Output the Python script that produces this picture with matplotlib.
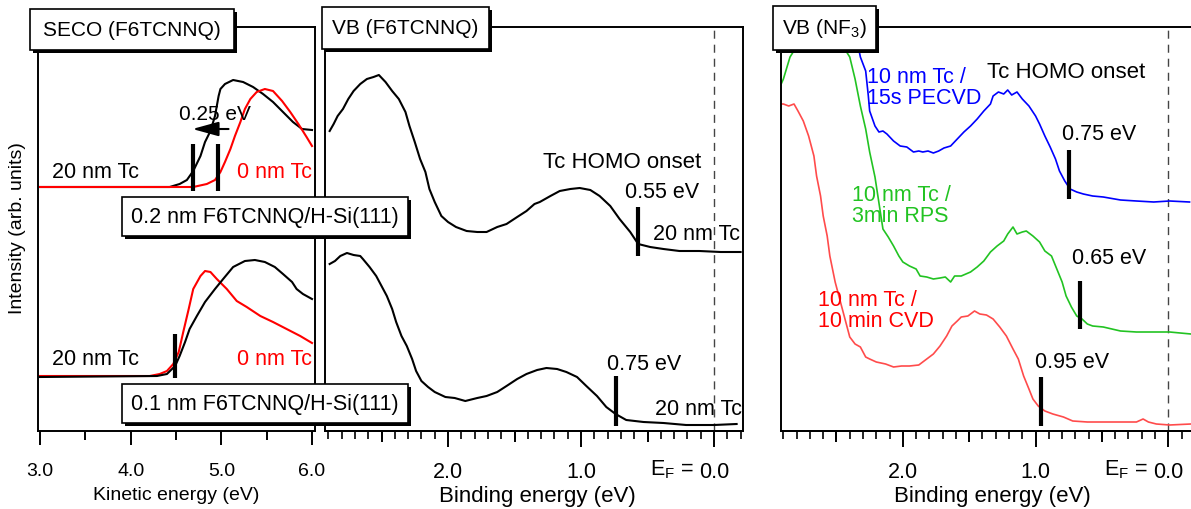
import matplotlib
matplotlib.use("Agg")
import matplotlib.pyplot as plt
from matplotlib.patches import Rectangle
from matplotlib.ticker import MultipleLocator, FixedLocator, FixedFormatter, FormatStrFormatter

plt.rcParams['font.family'] = ['Liberation Sans', 'DejaVu Sans']
plt.rcParams['mathtext.fontset'] = 'custom'
plt.rcParams['mathtext.rm'] = 'Liberation Sans'

# ---- data (intensity in arb. units) ----
# SECO, 0.2 nm F6TCNNQ
seco02_black_ke = [3.00, 4.21, 4.43, 4.54, 4.62, 4.69, 4.77, 4.82, 4.88, 4.93, 4.97, 4.99, 5.04, 5.13, 5.24, 5.35, 5.46, 5.57, 5.68, 5.79, 5.89, 6.00]
seco02_black_int = [244, 244, 244, 247, 251, 260, 275, 289, 300, 315, 335, 342, 347, 351, 349, 344, 337, 329, 319, 309, 302, 301]
seco02_red_ke = [3.00, 4.69, 4.84, 4.93, 4.99, 5.04, 5.10, 5.15, 5.21, 5.26, 5.32, 5.39, 5.48, 5.57, 5.67, 5.76, 5.85, 5.94, 6.00]
seco02_red_int = [244, 244, 247, 251, 259, 269, 282, 295, 309, 322, 332, 339, 342, 340, 330, 319, 307, 294, 285]
# SECO, 0.1 nm F6TCNNQ
seco01_black_ke = [3.00, 4.29, 4.40, 4.49, 4.54, 4.60, 4.65, 4.73, 4.82, 4.93, 5.02, 5.13, 5.26, 5.37, 5.48, 5.59, 5.68, 5.78, 5.83, 5.90, 6.00]
seco01_black_int = [54, 55, 57, 65, 75, 89, 102, 115, 129, 142, 152, 164, 170, 171, 169, 164, 157, 149, 142, 137, 132]
seco01_red_ke = [3.00, 4.21, 4.32, 4.40, 4.47, 4.53, 4.58, 4.64, 4.69, 4.77, 4.82, 4.88, 4.95, 5.06, 5.17, 5.28, 5.43, 5.57, 5.72, 5.87, 6.00]
seco01_red_int = [55, 55, 57, 60, 67, 79, 99, 122, 142, 155, 160, 159, 152, 142, 130, 124, 115, 109, 102, 95, 88]

# VB, F6TCNNQ (20 nm Tc)
vb02_be = [2.89, 2.86, 2.83, 2.79, 2.75, 2.71, 2.66, 2.61, 2.56, 2.52, 2.47, 2.42, 2.37, 2.32, 2.29, 2.25, 2.21, 2.17, 2.14, 2.10, 2.05, 2.00, 1.94, 1.86, 1.78, 1.71, 1.63, 1.56, 1.48, 1.41, 1.35, 1.31, 1.23, 1.16, 1.08, 1.01, 0.93, 0.86, 0.78, 0.71, 0.63, 0.57, 0.48, 0.38, 0.26, 0.11, -0.05, -0.20]
vb02_int = [300, 307, 315, 322, 332, 340, 347, 352, 354, 356, 349, 340, 332, 319, 305, 289, 272, 259, 242, 229, 215, 209, 204, 200, 199, 199, 204, 207, 214, 220, 227, 229, 235, 240, 242, 243, 241, 235, 225, 212, 199, 187, 184, 182, 180, 180, 179, 179]
vb01_be = [2.89, 2.85, 2.81, 2.76, 2.71, 2.66, 2.64, 2.59, 2.54, 2.50, 2.46, 2.42, 2.39, 2.35, 2.31, 2.27, 2.24, 2.20, 2.15, 2.10, 2.02, 1.95, 1.87, 1.78, 1.71, 1.63, 1.56, 1.48, 1.41, 1.33, 1.26, 1.18, 1.11, 1.03, 0.96, 0.88, 0.81, 0.74, 0.66, 0.53, 0.38, 0.21, 0.00, -0.17]
vb01_int = [167, 170, 175, 178, 176, 175, 172, 164, 155, 145, 135, 122, 109, 95, 85, 72, 60, 50, 44, 39, 34, 33, 30, 33, 35, 39, 45, 52, 57, 61, 63, 62, 59, 54, 45, 35, 24, 17, 11, 9, 8, 6, 6, 7]

# VB, NF3
pecvd_be = [2.36, 2.32, 2.28, 2.26, 2.25, 2.21, 2.18, 2.15, 2.12, 2.07, 2.02, 1.97, 1.92, 1.88, 1.85, 1.81, 1.77, 1.73, 1.69, 1.64, 1.59, 1.54, 1.49, 1.44, 1.39, 1.34, 1.32, 1.28, 1.24, 1.21, 1.18, 1.14, 1.10, 1.05, 1.00, 0.97, 0.93, 0.89, 0.85, 0.82, 0.78, 0.74, 0.69, 0.64, 0.57, 0.49, 0.36, 0.24, 0.11, -0.01, -0.16]
pecvd_int = [400, 374, 360, 335, 320, 305, 299, 300, 297, 290, 285, 284, 279, 280, 279, 280, 278, 280, 283, 285, 292, 299, 305, 312, 320, 327, 335, 339, 337, 341, 336, 339, 332, 325, 315, 307, 295, 284, 272, 260, 250, 242, 239, 237, 235, 234, 231, 230, 229, 230, 229]
rps_be = [2.92, 2.90, 2.85, 2.75, 2.50, 2.40, 2.36, 2.32, 2.28, 2.25, 2.21, 2.15, 2.11, 2.07, 2.03, 2.00, 1.95, 1.90, 1.87, 1.82, 1.77, 1.72, 1.68, 1.64, 1.61, 1.56, 1.49, 1.44, 1.39, 1.34, 1.29, 1.24, 1.21, 1.17, 1.14, 1.10, 1.07, 1.02, 0.97, 0.93, 0.88, 0.84, 0.80, 0.77, 0.73, 0.69, 0.65, 0.61, 0.57, 0.49, 0.36, 0.24, 0.11, -0.01, -0.17]
rps_int = [346, 352, 374, 395, 395, 374, 352, 325, 302, 279, 254, 202, 194, 185, 175, 169, 165, 162, 155, 154, 152, 153, 154, 149, 155, 155, 159, 164, 170, 179, 185, 190, 197, 204, 197, 199, 200, 195, 189, 180, 175, 162, 149, 135, 124, 115, 112, 107, 105, 104, 100, 99, 99, 99, 97]
cvd_be = [2.92, 2.90, 2.86, 2.82, 2.79, 2.75, 2.71, 2.67, 2.65, 2.62, 2.60, 2.57, 2.55, 2.51, 2.40, 2.36, 2.32, 2.28, 2.25, 2.20, 2.13, 2.07, 2.01, 1.95, 1.88, 1.82, 1.77, 1.72, 1.67, 1.63, 1.59, 1.56, 1.51, 1.46, 1.42, 1.37, 1.32, 1.27, 1.22, 1.17, 1.13, 1.09, 1.05, 1.02, 0.98, 0.93, 0.87, 0.79, 0.72, 0.61, 0.49, 0.36, 0.24, 0.19, 0.15, 0.09, -0.01, -0.17]
cvd_int = [327, 327, 325, 327, 320, 310, 295, 275, 255, 235, 215, 195, 175, 149, 94, 87, 84, 74, 72, 69, 67, 64, 65, 65, 66, 72, 77, 85, 95, 105, 110, 114, 115, 120, 117, 116, 112, 104, 95, 82, 72, 55, 42, 32, 25, 20, 17, 14, 10, 9, 9, 9, 9, 12, 9, 7, 6, 7]

# onset markers: position, bar bottom, bar top
seco_onsets = [(4.69, 240, 287), (4.96, 240, 287), (4.49, 53, 97)]
vb_onsets = [(0.57, 175, 224), (0.74, 5, 55)]
nf_onsets = [(0.75, 232, 281), (0.665, 102, 150), (0.96, 5, 54)]

BLUE = '#0000ff'
GREEN = '#22c322'
RED = '#ff0000'
RED_L = '#ff4b4b'

W, H = 1191, 510
def fx(px):
    return px / W
def fy(py):
    return 1 - py / H

fig = plt.figure(figsize=(W / 100, H / 100), dpi=100)

def make_axes(x0, x1):
    ax = fig.add_axes([fx(x0), fy(432), fx(x1) - fx(x0), fy(28) - fy(432)])
    ax.set_ylim(0, 404)
    ax.set_yticks([])
    for sp in ax.spines.values():
        sp.set_linewidth(1.4)
    return ax

ax_s = make_axes(38, 315)
ax_v = make_axes(325, 743)
ax_n = make_axes(781, 1191)
ax_n.spines['right'].set_visible(False)

# SECO panel
ax_s.set_xlim(2.978, 6.033)
ax_s.plot(seco02_black_ke, seco02_black_int, color='k', lw=1.5)
ax_s.plot(seco02_red_ke, seco02_red_int, color=RED, lw=1.5)
ax_s.plot(seco01_red_ke, seco01_red_int, color=RED, lw=1.5)
ax_s.plot(seco01_black_ke, seco01_black_int, color='k', lw=1.5)
for x, lo, hi in seco_onsets:
    ax_s.plot([x, x], [lo, hi], color='k', lw=3, solid_capstyle='butt')
ax_s.annotate('', xy=(4.65, 302), xytext=(5.11, 302),
              arrowprops=dict(arrowstyle='-|>,head_length=0.8,head_width=0.22',
                              color='k', lw=1.5, mutation_scale=20))
ax_s.text(4.93, 317, '0.25 eV', ha='center', va='center', fontsize=15)
ax_s.text(3.13, 260, '20 nm Tc', ha='left', va='center', fontsize=15.5)
ax_s.text(6.0, 260, '0 nm Tc', ha='right', va='center', fontsize=15.5, color=RED)
ax_s.text(3.13, 72, '20 nm Tc', ha='left', va='center', fontsize=15.5)
ax_s.text(6.0, 72, '0 nm Tc', ha='right', va='center', fontsize=15.5, color=RED)
ax_s.xaxis.set_major_locator(MultipleLocator(1))
ax_s.xaxis.set_minor_locator(MultipleLocator(0.5))
ax_s.xaxis.set_major_formatter(FormatStrFormatter('%.1f'))
ax_s.tick_params(axis='x', which='major', direction='out', length=10, width=1.4, labelsize=14, pad=12)
ax_s.tick_params(axis='x', which='minor', direction='out', length=6.5, width=1.4)

# VB panels
def vb_ticks(ax):
    ax.axvline(0, color='#444444', lw=1, ls=(0, (5.8, 4.3)))
    ax.xaxis.set_major_locator(FixedLocator([2.0, 1.0, 0.0]))
    ax.xaxis.set_major_formatter(FixedFormatter(['2.0', '1.0', '0.0']))
    ax.xaxis.set_minor_locator(MultipleLocator(0.1))
    ax.tick_params(axis='x', which='major', direction='out', length=11.5, width=1.4, labelsize=15.5, pad=10)
    ax.tick_params(axis='x', which='minor', direction='out', length=5.5, width=1.2)
    sec = ax.secondary_xaxis('bottom')
    sec.set_xticks([2.5, 1.5, 0.5])
    sec.tick_params(axis='x', direction='out', length=8, width=1.4, labelbottom=False)
    sec.spines['bottom'].set_linewidth(1.4)
    ax.annotate('E$_{\\rm F}$ =', xy=(0, 0), xycoords=ax.get_xaxis_transform(),
                xytext=(-20, -38), textcoords='offset pixels',
                ha='right', va='center', fontsize=15.5)

ax_v.set_xlim(2.925, -0.218)
vb_ticks(ax_v)
ax_v.plot(vb02_be, vb02_int, color='k', lw=1.5)
ax_v.plot(vb01_be, vb01_int, color='k', lw=1.5)
for x, lo, hi in vb_onsets:
    ax_v.plot([x, x], [lo, hi], color='k', lw=3, solid_capstyle='butt')
ax_v.text(1.286, 270, 'Tc HOMO onset', ha='left', va='center', fontsize=16)
ax_v.text(0.669, 239, '0.55 eV', ha='left', va='center', fontsize=15.5)
ax_v.text(-0.195, 197, '20 nm Tc', ha='right', va='center', fontsize=15.5)
ax_v.text(0.807, 67, '0.75 eV', ha='left', va='center', fontsize=15.5)
ax_v.text(-0.208, 22, '20 nm Tc', ha='right', va='center', fontsize=15.5)

ax_n.set_xlim(2.918, -0.171)
vb_ticks(ax_n)
ax_n.plot(cvd_be, cvd_int, color=RED_L, lw=1.2)
ax_n.plot(rps_be, rps_int, color=GREEN, lw=1.2)
ax_n.plot(pecvd_be, pecvd_int, color=BLUE, lw=1.2)
for x, lo, hi in nf_onsets:
    ax_n.plot([x, x], [lo, hi], color='k', lw=3, solid_capstyle='butt')
ax_n.text(2.271, 344, '10 nm Tc /\n15s PECVD', ha='left', va='center', fontsize=15.5,
          color=BLUE, linespacing=1.0)
ax_n.text(1.367, 360, 'Tc HOMO onset', ha='left', va='center', fontsize=16)
ax_n.text(0.803, 297, '0.75 eV', ha='left', va='center', fontsize=15.5)
ax_n.text(2.384, 226, '10 nm Tc /\n3min RPS', ha='left', va='center', fontsize=15.5,
          color=GREEN, linespacing=1.0)
ax_n.text(0.727, 173, '0.65 eV', ha='left', va='center', fontsize=15.5)
ax_n.text(2.636, 121, '10 nm Tc /\n10 min CVD', ha='left', va='center', fontsize=15.5,
          color=RED, linespacing=1.0)
ax_n.text(1.004, 69, '0.95 eV', ha='left', va='center', fontsize=15.5)

# axis labels
fig.text(fx(18), fy(228), 'Intensity (arb. units)', rotation=90, ha='center', va='center', fontsize=14)
fig.text(fx(176), fy(496), 'Kinetic energy (eV)', ha='center', va='center', fontsize=14)
fig.text(fx(537), fy(497), 'Binding energy (eV)', ha='center', va='center', fontsize=16)
fig.text(fx(992), fy(497), 'Binding energy (eV)', ha='center', va='center', fontsize=16)

# boxed labels with drop shadow
def label_box(x0, y0, x1, y1, text, size):
    shadow = Rectangle((fx(x0 + 3), fy(y1 + 3)), fx(x1) - fx(x0), fy(y0) - fy(y1),
                       transform=fig.transFigure, fc='black', ec='none', zorder=5)
    box = Rectangle((fx(x0), fy(y1)), fx(x1) - fx(x0), fy(y0) - fy(y1),
                    transform=fig.transFigure, fc='white', ec='black', lw=1.2, zorder=6)
    fig.add_artist(shadow)
    fig.add_artist(box)
    fig.text(fx((x0 + x1) / 2), fy((y0 + y1) / 2), text, ha='center', va='center',
             fontsize=size, zorder=7)

label_box(30, 10, 234, 51, 'SECO (F6TCNNQ)', 15)
label_box(322, 8, 489, 50, 'VB (F6TCNNQ)', 15)
label_box(773, 7, 876, 51, 'VB (NF$_3$)', 15)
label_box(122, 198, 408, 237, '0.2 nm F6TCNNQ/H-Si(111)', 15.5)
label_box(122, 385, 408, 424, '0.1 nm F6TCNNQ/H-Si(111)', 15.5)

fig.savefig('out.png', dpi=100)
